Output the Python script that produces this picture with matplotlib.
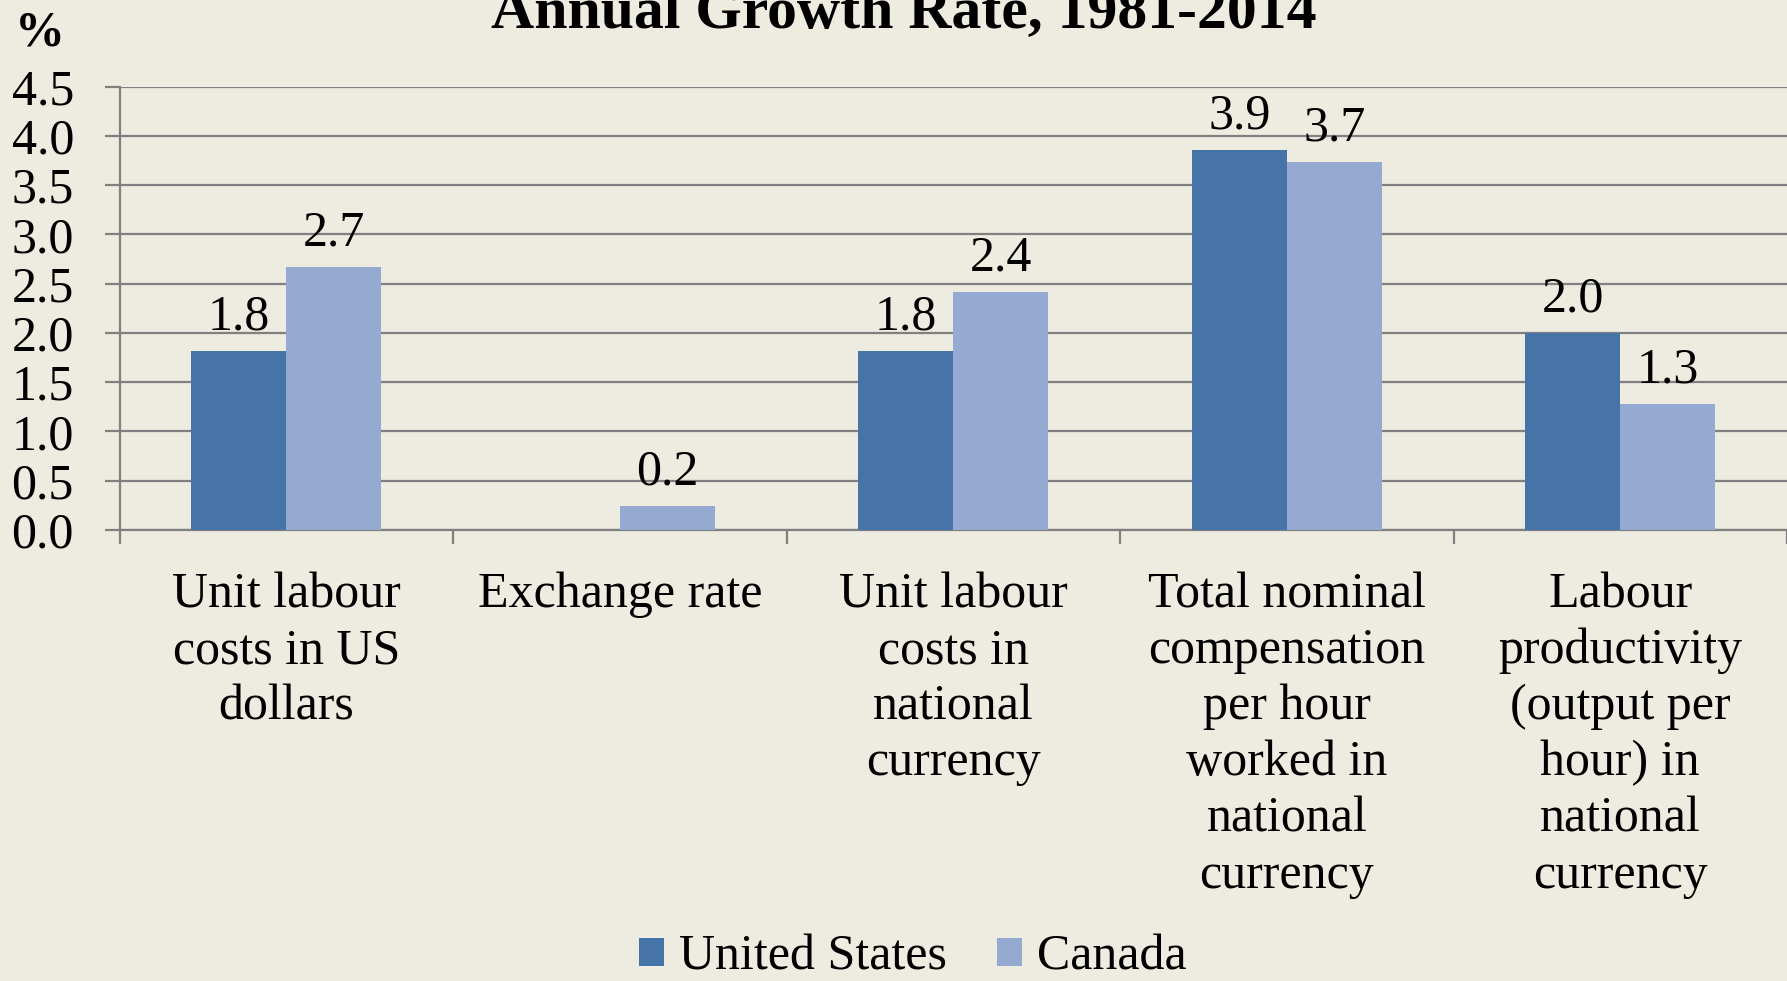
import matplotlib
matplotlib.use("Agg")
import matplotlib.pyplot as plt
import numpy as np

categories = ["Unit labour\ncosts in US\ndollars", "Exchange rate",
              "Unit labour\ncosts in\nnational\ncurrency",
              "Total nominal\ncompensation\nper hour\nworked in\nnational\ncurrency",
              "Labour\nproductivity\n(output per\nhour) in\nnational\ncurrency"]
us = [1.82, np.nan, 1.82, 3.86, 2.0]
canada = [2.67, 0.24, 2.42, 3.73, 1.28]
series_names = ["United States", "Canada"]
yticks = [0.0, 0.5, 1.0, 1.5, 2.0, 2.5, 3.0, 3.5, 4.0, 4.5]

bg = "#EEEBE0"
c_us = "#4674A8"
c_ca = "#95AAD1"
grid_c = "#808080"
plt.rcParams['font.family'] = ['Liberation Serif', 'DejaVu Serif']

fig = plt.figure(figsize=(17.87, 9.81), dpi=100, facecolor=bg)
ax = fig.add_axes([0.067, 0.4597, 0.933, 0.452], facecolor=bg)

x = np.arange(len(categories))
w = 0.285
b1 = ax.bar(x - w/2, us, w, color=c_us, label=series_names[0], zorder=3)
b2 = ax.bar(x + w/2, canada, w, color=c_ca, label=series_names[1], zorder=3)

fs = 36
for xs, vals in ((x - w/2, us), (x + w/2, canada)):
    for xi, v in zip(xs, vals):
        if np.isnan(v):
            continue
        ax.annotate(f"{v:.1f}", (xi, v), xytext=(0, 15.5), textcoords="offset points",
                    ha="center", va="baseline", fontsize=fs, zorder=4)

ax.set_xlim(-0.5, len(categories) - 0.5)
ax.set_ylim(0, 4.5)
ax.set_yticks(yticks)
ax.set_yticklabels([f"{t:.1f}" for t in yticks], fontsize=fs)
ax.yaxis.grid(True, color=grid_c, linewidth=1.6, zorder=0)
ax.tick_params(axis='y', length=11, width=1.6, color=grid_c, pad=22)

ax.set_xticks(np.arange(len(categories) + 1) - 0.5)
ax.set_xticklabels([])
ax.tick_params(axis='x', which='major', length=10, width=1.6, color=grid_c)
ax.set_xticks(x, minor=True)
ax.set_xticklabels(categories, minor=True, fontsize=fs, linespacing=1.27)
ax.tick_params(axis='x', which='minor', length=0, pad=30)

for s in ('top', 'right'):
    ax.spines[s].set_visible(False)
for s in ('left', 'bottom'):
    ax.spines[s].set_color(grid_c)
    ax.spines[s].set_linewidth(1.6)

fig.text(0.506, 0.972, "Annual Growth Rate, 1981-2014", ha="center", va="baseline",
         fontsize=43, fontweight="bold")
fig.text(0.0224, 0.9535, "%", ha="center", va="baseline", fontsize=fs, fontweight="bold")

fig.legend(handles=[b1, b2], loc="center", bbox_to_anchor=(0.511, 0.024), ncol=2,
           frameon=False, fontsize=fs, handlelength=0.5, handleheight=0.5,
           handletextpad=0.3, columnspacing=1.0)

fig.savefig("out.png", dpi=100, facecolor=bg)
